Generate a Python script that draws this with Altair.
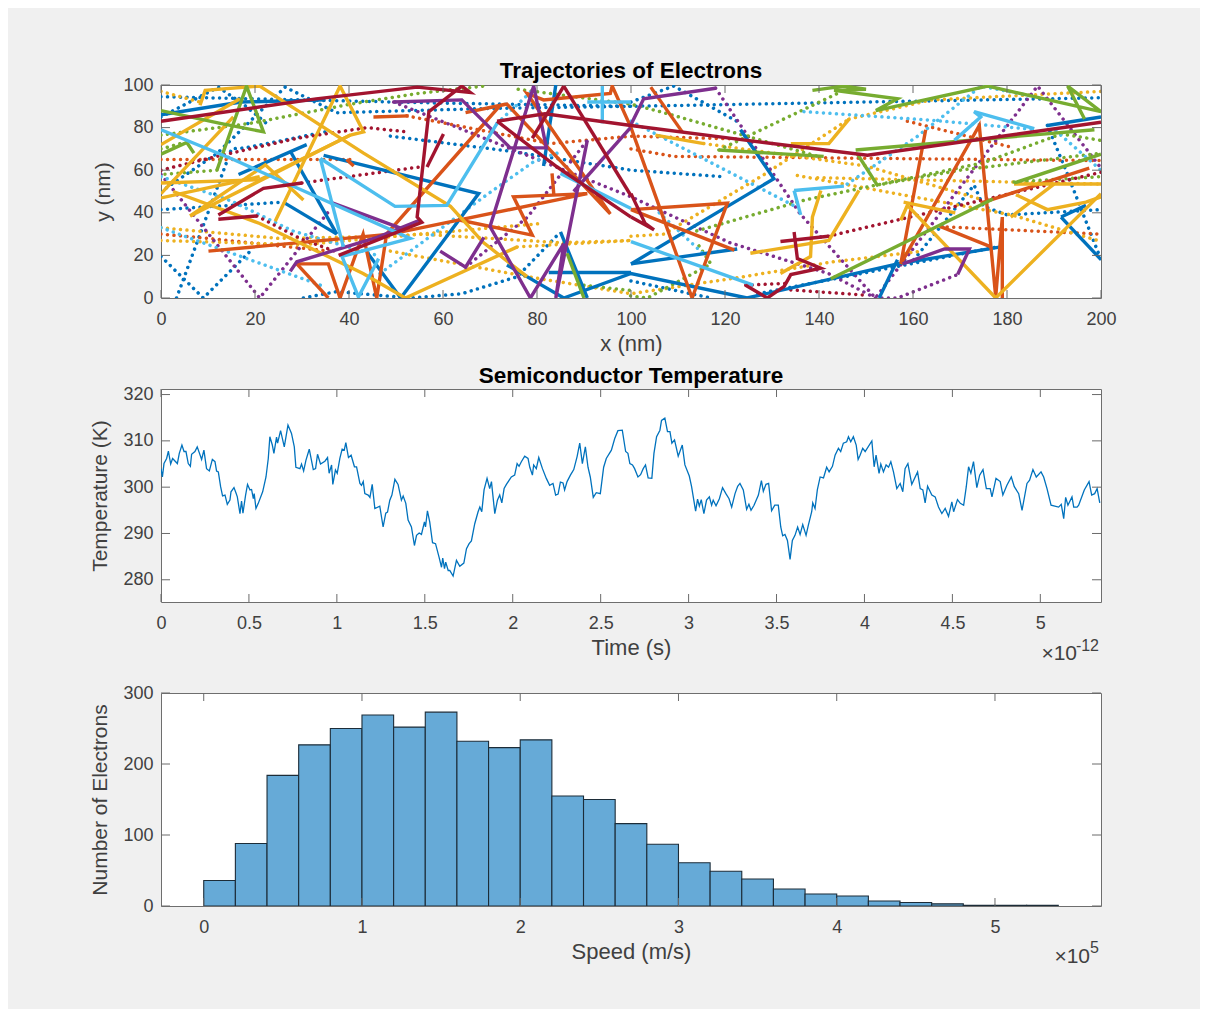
import altair as alt
import pandas as pd

FONT = "Liberation Sans"
COLOR_NAMES = ["blue", "orange", "yellow", "purple", "green", "cyan", "crimson"]
COLOR_VALUES = ["#0072BD", "#D95319", "#EDB120", "#7E2F8E", "#77AC30", "#4DBEEE", "#A2142F"]

BLUE_SOLID = [
    [(0,86),(17,92),(35,93)], [(16.5,58),(31,72)], [(27.5,69),(37.4,30)], [(26,45),(37.4,30)],
    [(34.6,67),(67.6,49),(51,0),(44,21)],
    [(73.6,15.5),(85.7,0),(100,11.5),(124.7,0),(156.7,16),(178.7,24)],
    [(85,31),(90.7,0)], [(82.5,12),(100,12)], [(84,100),(81.4,62)], [(100,16),(122.6,23)],
    [(123.3,79),(130.4,56),(100,16)], [(156.7,18),(152.8,0)], [(188.6,81),(200,85)],
    [(191.5,38),(200,18)], [(191.5,38),(196.8,43.5)],
]
BLUE_DOT = [
    [(0,94.5),(30,93),(60,91.5),(100,90),(150,92),(200,94)],
    [(0,50),(12,68),(26.4,99),(37.4,87),(70,89),(100,90)],
    [(0,85),(12.2,99),(17.5,91),(23,81)], [(0,19.5),(9,0),(19,22)],
    [(3.3,0),(15,70),(18,70.5),(35,78)], [(0,41.5),(26,45)],
    [(30.3,0),(37.4,3),(53,0),(64,2),(75.8,10),(85,31)],
    [(48.8,76),(74,69),(100,60),(119.4,57)], [(100,92),(109.1,99.5),(123.3,82)],
    [(160.2,18),(173,53),(175,43),(180,39),(200,41.5)],
    [(188.6,81),(192.9,58),(200,18)], [(100,8),(117,0)], [(127,2),(178,24)],
]
ORANGE_SOLID = [
    [(10.1,22),(48.8,30),(90.7,49),(75,47.5),(79,29.5),(63.7,36.5)],
    [(28.9,16),(35.6,16),(38.1,0),(43,30),(45.9,0),(48,30),(72.2,90.5),(64.8,87),(73.6,91),
     (95.6,39.5),(77.9,96),(81.4,93),(95.6,96),(96,99.5),(100,80),(113,0),(120.5,44.5),(100,41.5),(122,22.5)],
    [(28.9,16),(35.6,0)], [(104.2,99),(110.9,78)], [(83.6,48),(83.2,58.5)], [(39.5,65),(41,62)],
    [(45.2,85),(52.7,85.5)],
    [(162.7,79),(157.4,16),(174.1,81),(177,14.5),(177.6,0.5),(179,38),(179,0)],
    [(174.4,44.5),(197.5,61)], [(165.9,33.5),(176.6,24)],
]
ORANGE_DOT = [
    [(0,65),(40.3,65)], [(0,30),(10,28),(36,22)], [(52.3,85.5),(82.8,72.5),(100,76),(125,74.5)],
    [(100,70),(109,66.5),(200,64.5)], [(158.8,83),(181.5,70.5)], [(165.9,33.5),(200,30)],
]
YELLOW_SOLID = [
    [(2.6,50),(21,35),(43,11.5),(52,0),(75.8,24)], [(6.2,38.5),(22.2,62.5),(30.3,46)],
    [(0,54),(21,55.5),(40.3,76.5),(43.1,78),(38.1,99.5),(24.3,36)], [(0,47),(21,57)],
    [(6.2,38.5),(40.3,76.5)], [(8.3,90.5),(9.4,97.5),(21,99.5),(43.1,68),(61.6,43),(68.6,26),(77.9,10)],
    [(0,72),(16.8,93.5)], [(0,49),(15.4,85)], [(105.2,76.5),(115.5,72.5)],
    [(134,72.5),(142.1,72.5),(146.4,84)], [(125.4,21),(142.1,27),(148.5,50.5)],
    [(131.8,11.5),(138.2,19.5),(138.6,38),(140.4,50.5)],
    [(157.4,36.5),(158.8,43.5),(177.6,0),(200,49)], [(181.5,53.5),(200,53.5)],
    [(181.9,48.5),(188.6,41.5),(196.8,45),(200,47.5)], [(180.8,38),(190,53.5)], [(158,45),(169,40)],
]
YELLOW_DOT = [
    [(0,97),(8.3,92)], [(0,33),(25,28),(50,29),(81,35)], [(0,27),(30,25),(55,30),(85,26),(100,27)],
    [(48.8,22),(78,10),(100,2),(124,10),(143,17),(162,22)], [(75.8,24),(100,27)],
    [(146.4,84),(163.8,93),(200,97)], [(135.4,57.5),(181,39),(199.3,27)],
    [(100,29),(107,30),(128,57.5),(146.4,84)], [(139.7,56.5),(200,53.5)], [(115.5,72.5),(150,62),(175,46)],
]
PURPLE_SOLID = [
    [(49.5,92),(64,93),(74.3,70.5),(82,70.5),(79.3,99.5),(70,33.5),(78.6,0),(85.7,25.5),(84,0),(90.7,74)],
    [(87.8,50),(99.9,80)], [(36,45),(52,32)], [(27.5,12.5),(28.9,17),(46,28.5),(55,36.5)],
    [(59.4,22),(64.8,14.5),(68.7,28.5)], [(99.9,81),(102.7,93.5),(118,98.5)],
    [(169.5,11),(172,23),(166.7,23),(157.8,16)],
]
PURPLE_DOT = [
    [(0,58),(21,0),(36,41.5)], [(49.5,92),(100,47.5),(121,26),(142,11.5),(152,0),(156.7,0),(169.5,11)],
    [(64.8,14.5),(78,38),(90.7,74)], [(118,98.5),(136,39.5),(152,0),(186.5,99.5),(200,61)],
]
GREEN_SOLID = [
    [(0,88),(12.6,82),(21.8,78),(18.2,99.5),(11.9,60)], [(0,67.5),(5.5,73),(7,68)], [(86.4,21),(90,0)],
    [(118.7,69.5),(141,66.5)],
    [(138.6,97.5),(145.3,99.5),(150,98),(143.2,97.5),(156.7,93.5),(152.1,88),(175.9,99.5),(200,87.5),(192.9,99.5),(196.5,84)],
    [(147.8,69.5),(198.6,79)], [(148.2,67.5),(152.4,53)], [(142.5,9),(177,46.5)], [(181.5,54),(200,67.5)],
]
GREEN_DOT = [
    [(11.9,60),(0,58)], [(0,76.5),(19,82),(40.3,91),(54.5,96),(68.7,99.5)], [(0,70),(5,73)],
    [(76,98),(100,91),(107,87),(139.7,66.5)], [(118.7,69.5),(143.9,96)], [(90,6),(100,3.5)],
    [(114,31.5),(137,46),(175,63.5),(191.5,77),(200,74)], [(99.9,1),(103.5,0),(117,16),(114,26)],
    [(181.5,54.5),(200,57)], [(152.4,53),(170,60),(200,68)],
]
CYAN_SOLID = [
    [(0,79),(15.4,65),(53,28),(38.5,19.5),(42,0.5),(46.3,18.5)], [(33.9,65.5),(49.8,43),(60.8,43.5),(71.5,82)],
    [(33.9,65.5),(38.8,24)], [(90.7,92),(100,92)], [(93.9,99.5),(93.9,82)], [(85,58.5),(100,42)],
    [(100,26.5),(126,6)], [(134.7,50.5),(136.1,39)], [(134.7,50.5),(145.3,52.5)],
    [(168.8,74),(174.4,85),(173,87.5),(185.8,79.5)],
]
CYAN_DOT = [
    [(46.6,11.5),(68.7,47.5),(79.3,64),(84.3,68)], [(0,57),(15,45.5),(28,31.5),(46,20)], [(0,33),(34.6,5.5)],
    [(71.5,82),(79.3,98)], [(100,83),(135.4,42.5)], [(136.8,87.5),(163.8,83.5),(186.5,79)],
    [(146,53.5),(161,76),(174.5,99.5),(186,94.5)], [(190.4,78.5),(200,60)], [(106,40),(116,19.5)],
]
CRIMSON_SOLID = [
    [(0,83),(33,93.5),(54.5,99),(65.8,96.5),(64,99.5),(57,87.5),(54.5,38),(55.5,35.5),(37.8,20)],
    [(60.1,77),(56.6,61.5)], [(12.2,37),(20.4,38.5)], [(12.2,39),(21.8,51.5),(30,54)],
    [(71.5,83),(81.7,86.5),(100,81),(124.7,74),(150.3,67),(200,82.5)],
    [(71.5,83),(84.3,61.5),(100,38)], [(85.7,99.5),(100,48)], [(85.7,99.5),(79,75)],
    [(100,49),(103,35),(104.9,32),(100,38)], [(131.8,26.5),(142,29)],
    [(134.7,31),(135.4,18.5),(140.4,14),(134,11),(132.6,5.5),(129,0),(124.4,6)],
]
CRIMSON_DOT = [
    [(20.4,38.5),(30,27.5),(37,22)], [(30,54),(55,61.5)],
    [(0,60),(11.9,66.5),(29,75),(43.8,80),(52.3,78)], [(142,29),(200,59)], [(134,3.8),(149.6,1.4)], [(124.4,6),(134,7)],
]

TIME_LEFT = [0,.008,.017,.032,.042,.055,.066,.093,.104,.119,.131,.142,.155,.167,.174,.193,.206,.231,.244,.259,.275,.292,.307,.316,.326,.339,.350,.364,.377,.392,.398,.415,.426,.434,.449,.458,.466,.481,.492,.506,.515,.525,.530,.540,.553,.578,.597,.610,.619,.633,.642,.657,.663,.680,.701,.722,.742,.758,.767,.790,.799,.811,.824,.843,.866,.879,.890,.907,.932,.947,.956,.970,.977,.992,1.002,1.017,1.030,1.042,1.051,1.066,1.081,1.100,1.112,1.131,1.140,1.150,1.159,1.178,1.188,1.201,1.216,1.244,1.263,1.278,1.288,1.301,1.313,1.330,1.348,1.367,1.377,1.392,1.405,1.424,1.441,1.453,1.468,1.481,1.498,1.504,1.515,1.528,1.544,1.561,1.581,1.595,1.602,1.612,1.619,1.633,1.642,1.661,1.680,1.699,1.722,1.737,1.752,1.765,1.784,1.803,1.813,1.824,1.837,1.854,1.869,1.879,1.898,1.913,1.926,1.938,1.951,1.964,1.992,2.011,2.025,2.036,2.049,2.068,2.087,2.097,2.112,2.119,2.134,2.148,2.169,2.191,2.210,2.229,2.244,2.258,2.271,2.286,2.295,2.309,2.328,2.347,2.366,2.381,2.396,2.413,2.428,2.441,2.458,2.475,2.498,2.517,2.532,2.561,2.580,2.598,2.623,2.642,2.655]
TEMP_LEFT = [304.0,302.2,305.1,306.2,307.8,305.0,306.2,305.1,307.3,309.1,307.7,307.7,305.1,304.5,307.1,307.7,308.7,306.0,308.0,304.0,303.5,306.0,305.5,303.5,303.3,300.1,298.1,298.3,296.3,297.2,299.0,299.9,298.8,297.9,294.3,297.0,294.4,298.3,300.6,299.4,299.5,297.5,298.6,295.4,296.5,299.0,302.2,306.2,310.9,309.1,307.3,310.8,309.5,312.2,308.7,313.4,311.6,308.7,304.3,304.0,305.0,303.5,305.8,308.2,303.8,304.0,307.1,305.0,305.6,306.4,303.0,304.8,300.6,303.7,303.0,306.2,308.2,308.0,309.6,306.4,306.9,304.4,304.4,300.8,300.4,301.2,298.6,298.3,297.8,300.6,295.4,295.9,291.4,294.4,294.6,297.2,298.3,301.7,300.6,297.2,298.1,296.5,292.9,291.4,287.4,289.6,290.1,289.8,292.5,291.4,294.9,292.5,288.0,287.8,284.9,282.7,284.7,282.4,283.8,282.0,282.0,280.8,284.2,282.9,283.6,286.7,287.8,288.4,292.1,294.7,295.7,294.7,299.4,301.9,299.7,301.2,294.3,297.2,298.3,296.6,299.7,300.6,302.2,302.6,305.1,304.5,305.5,306.7,306.2,304.3,302.6,304.8,304.0,306.4,304.0,301.9,300.4,300.8,298.3,298.5,301.1,300.9,299.4,301.2,302.6,303.8,306.6,309.5,305.1,308.7,304.3,302.2,297.8,298.8,298.6,304.3,306.2,308.0,310.5,312.2,312.3,307.7,307.3]
TIME_RIGHT = [2.666,2.681,2.693,2.712,2.727,2.742,2.755,2.770,2.791,2.803,2.818,2.837,2.846,2.865,2.880,2.894,2.905,2.920,2.941,2.964,2.979,3.004,3.017,3.040,3.051,3.061,3.072,3.087,3.102,3.118,3.131,3.140,3.156,3.175,3.193,3.212,3.230,3.245,3.264,3.279,3.292,3.311,3.330,3.343,3.355,3.372,3.397,3.414,3.425,3.440,3.455,3.472,3.490,3.510,3.524,3.535,3.548,3.562,3.577,3.590,3.605,3.620,3.634,3.649,3.668,3.681,3.700,3.706,3.719,3.732,3.748,3.767,3.785,3.799,3.818,3.833,3.852,3.865,3.880,3.899,3.909,3.922,3.937,3.953,3.964,3.975,3.990,4.004,4.042,4.055,4.066,4.083,4.093,4.108,4.123,4.137,4.150,4.165,4.184,4.203,4.218,4.231,4.247,4.269,4.302,4.317,4.332,4.345,4.359,4.383,4.402,4.421,4.440,4.459,4.478,4.497,4.507,4.529,4.545,4.564,4.579,4.592,4.605,4.620,4.639,4.655,4.674,4.693,4.715,4.725,4.748,4.772,4.787,4.810,4.835,4.852,4.877,4.896,4.924,4.939,4.958,4.977,5.004,5.019,5.038,5.061,5.104,5.119,5.133,5.144,5.157,5.180,5.190,5.209,5.218,5.250,5.277,5.292,5.309,5.323,5.338]
TEMP_RIGHT = [305.1,304.8,304.0,302.2,302.7,304.0,304.8,302.0,301.9,307.3,310.9,312.3,314.4,314.9,312.0,312.0,309.5,310.2,306.7,309.1,304.8,302.4,300.1,294.8,297.4,295.9,297.3,294.3,297.2,297.9,296.1,297.2,296.0,297.5,299.9,298.6,297.5,295.7,298.6,300.2,300.8,299.4,295.2,296.3,295.0,296.1,298.3,301.4,299.1,300.6,300.8,294.9,296.1,296.1,291.4,289.5,289.8,288.5,284.4,288.5,289.6,291.4,289.8,291.9,289.6,291.8,294.7,296.6,295.4,299.4,302.2,302.0,304.3,303.3,304.5,306.9,308.4,307.7,309.5,309.8,310.9,309.8,310.9,309.1,306.0,306.9,308.4,307.7,310.0,304.4,306.9,303.0,305.0,303.3,304.8,304.3,305.5,303.3,299.7,300.8,299.0,304.0,305.1,300.6,303.3,299.7,299.4,296.6,300.2,298.3,297.9,295.7,294.3,295.4,293.7,296.8,294.7,297.3,296.5,296.1,300.1,304.4,303.0,305.5,299.9,302.6,303.8,299.7,299.7,297.9,301.9,301.2,298.3,300.4,302.2,300.1,298.6,295.0,300.8,301.5,303.8,302.2,303.3,302.2,299.7,296.1,295.7,296.3,293.2,297.8,296.1,297.9,295.7,295.7,296.1,299.4,301.2,298.3,298.6,299.7,296.6]

BIN_START = [round(i * 0.2, 1) for i in range(27)]
BIN_COUNT = [36,88,184,227,250,269,252,273,232,223,234,155,150,116,87,61,49,38,24,17,14,7,5,3,1,1,1]

X1_TICKS = list(range(0, 201, 20))
Y1_TICKS = list(range(0, 101, 20))
X2_TICKS = [0, 0.5, 1, 1.5, 2, 2.5, 3, 3.5, 4, 4.5, 5]
Y2_TICKS = [280, 290, 300, 310, 320]
X3_TICKS = [0, 1, 2, 3, 4, 5]
Y3_TICKS = [0, 100, 200, 300]

W, H = 940, 213
TICK = "#6a6a6a"
TEXT = "#404040"


def frame(groups, name):
    rows = []
    for k, path in enumerate(groups):
        for s, (x, y) in enumerate(path):
            rows.append({"x": x, "y": y, "id": f"{name}{k}", "seq": s, "color": name})
    return rows


def make_axis(title, values, title_size, **kw):
    return alt.Axis(title=title, values=values, format=".2~f", ticks=False, domain=False, grid=False,
                    labelFont=FONT, labelFontSize=18, labelColor=TEXT, titleFont=FONT, titleFontSize=title_size,
                    titleColor=TEXT, titleFontWeight="normal", labelFlush=False, labelOverlap=False, **kw)


def tick_layers(xs, ys, ax, ay, xticks, yticks):
    x_df = pd.DataFrame({"v": xticks})
    y_df = pd.DataFrame({"v": yticks})
    out = []
    for a, b in [(0, 8), (H - 8, H)]:
        out.append(alt.Chart(x_df).mark_rule(color=TICK, strokeWidth=1).encode(
            x=alt.X("v:Q", scale=xs, axis=ax), y=alt.value(a), y2=alt.value(b)))
    for a, b in [(0, 9), (W - 9, W)]:
        out.append(alt.Chart(y_df).mark_rule(color=TICK, strokeWidth=1).encode(
            y=alt.Y("v:Q", scale=ys, axis=ay), x=alt.value(a), x2=alt.value(b)))
    return out


def exponent(base, sup, xb, xs_, yb, ys_):
    t1 = alt.Chart(pd.DataFrame({"t": [base]})).mark_text(
        align="right", baseline="alphabetic", font=FONT, fontSize=21, color=TEXT
    ).encode(x=alt.value(xb), y=alt.value(yb), text="t:N")
    t2 = alt.Chart(pd.DataFrame({"t": [sup]})).mark_text(
        align="right", baseline="alphabetic", font=FONT, fontSize=16, color=TEXT
    ).encode(x=alt.value(xs_), y=alt.value(ys_), text="t:N")
    return [t1, t2]


title_style = dict(font=FONT, fontSize=22.5, fontWeight="bold", color="black")
color_scale = alt.Scale(domain=COLOR_NAMES, range=COLOR_VALUES)
X_PAD = dict(labelPadding=12, titlePadding=5.5)

# top panel
solid_groups = [BLUE_SOLID, ORANGE_SOLID, YELLOW_SOLID, PURPLE_SOLID, GREEN_SOLID, CYAN_SOLID, CRIMSON_SOLID]
dot_groups = [BLUE_DOT, ORANGE_DOT, YELLOW_DOT, PURPLE_DOT, GREEN_DOT, CYAN_DOT, CRIMSON_DOT]
solid_rows, dot_rows = [], []
for n, g in zip(COLOR_NAMES, solid_groups):
    solid_rows += frame(g, n)
for n, g in zip(COLOR_NAMES, dot_groups):
    dot_rows += frame(g, n)

xs1 = alt.Scale(domain=[0, 200], nice=False, zero=False)
ys1 = alt.Scale(domain=[0, 100], nice=False, zero=False)
ax1 = make_axis("x (nm)", X1_TICKS, 22, **X_PAD)
ay1 = make_axis("y (nm)", Y1_TICKS, 21, labelPadding=8, titlePadding=9)

dots = alt.Chart(pd.DataFrame(dot_rows)).mark_line(
    strokeDash=[0.01, 6.5], strokeCap="round", strokeWidth=3.5, clip=True
).encode(
    x=alt.X("x:Q", scale=xs1, axis=ax1),
    y=alt.Y("y:Q", scale=ys1, axis=ay1),
    color=alt.Color("color:N", scale=color_scale, legend=None),
    detail="id:N", order="seq:Q",
)
solid = alt.Chart(pd.DataFrame(solid_rows)).mark_line(strokeWidth=3.4, clip=True).encode(
    x=alt.X("x:Q", scale=xs1, axis=ax1), y=alt.Y("y:Q", scale=ys1, axis=ay1),
    color=alt.Color("color:N", scale=color_scale, legend=None),
    detail="id:N", order="seq:Q",
)
panel1 = alt.layer(dots, solid, *tick_layers(xs1, ys1, ax1, ay1, X1_TICKS, Y1_TICKS)).properties(
    width=W, height=H, title=alt.TitleParams("Trajectories of Electrons", offset=-6.5, **title_style))

# middle panel
xs2 = alt.Scale(domain=[0, 5.345], nice=False, zero=False)
ys2 = alt.Scale(domain=[275.2, 321.2], nice=False, zero=False)
ax2 = make_axis("Time (s)", X2_TICKS, 22, **X_PAD)
ay2 = make_axis("Temperature (K)", Y2_TICKS, 21, labelPadding=8, titlePadding=12)
temp_df = pd.DataFrame({"t": TIME_LEFT + TIME_RIGHT, "T": TEMP_LEFT + TEMP_RIGHT})
line = alt.Chart(temp_df).mark_line(color="#0072BD", strokeWidth=1.3, clip=True).encode(
    x=alt.X("t:Q", scale=xs2, axis=ax2),
    y=alt.Y("T:Q", scale=ys2, axis=ay2),
)
panel2 = alt.layer(line, *tick_layers(xs2, ys2, ax2, ay2, X2_TICKS, Y2_TICKS),
                   *exponent("×10", "-12", 916, 938, 271, 262)).properties(
    width=W, height=H, title=alt.TitleParams("Semiconductor Temperature", offset=-2, **title_style))

# bottom panel
xs3 = alt.Scale(domain=[-0.27, 5.67], nice=False, zero=False)
ys3 = alt.Scale(domain=[0, 300], nice=False, zero=False)
ax3 = make_axis("Speed (m/s)", X3_TICKS, 22, **X_PAD)
ay3 = make_axis("Number of Electrons", Y3_TICKS, 21, labelPadding=8, titlePadding=12)
hist_df = pd.DataFrame({"start": BIN_START, "end": [round(b + 0.2, 1) for b in BIN_START],
                        "count": BIN_COUNT, "base": [0] * len(BIN_START)})
bars = alt.Chart(hist_df).mark_rect(color="#66AAD7", stroke="#1c2c38", strokeWidth=1.1, clip=True).encode(
    x=alt.X("start:Q", scale=xs3, axis=ax3),
    x2="end:Q",
    y=alt.Y("count:Q", scale=ys3, axis=ay3),
    y2="base:Q",
)
panel3 = alt.layer(bars, *tick_layers(xs3, ys3, ax3, ay3, X3_TICKS, Y3_TICKS),
                   *exponent("×10", "5", 929, 938, 270, 260)).properties(width=W, height=H)

chart = alt.vconcat(panel1, panel2, panel3, spacing=91, bounds="flush").properties(
    background="#f0f0f0",
    padding={"left": 81, "top": 51, "right": 83, "bottom": 42},
).configure_view(fill="white", stroke="#6e6e6e", strokeWidth=1)

chart.save("out.html", embed_options={"renderer": "svg", "actions": False})
